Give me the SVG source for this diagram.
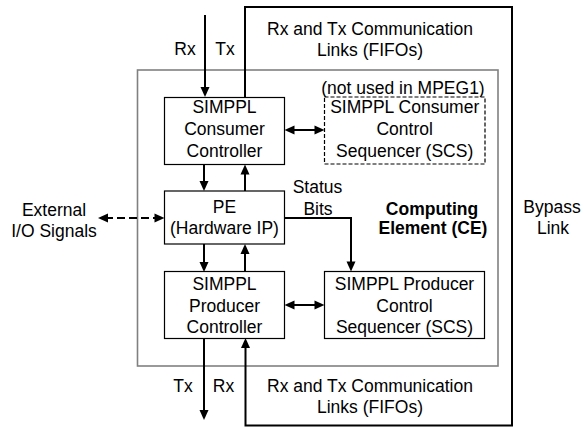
<svg xmlns="http://www.w3.org/2000/svg" width="584" height="428" viewBox="0 0 584 428">
  <style>
    text { font-family: "Liberation Sans", Arial, sans-serif; font-size: 17.5px; fill: #000; text-anchor: middle; }
    .bold { font-weight: bold; }
    .box { fill: #fff; stroke: #000; stroke-width: 1.2; }
    .dashbox { fill: #fff; stroke: #000; stroke-width: 1.2; stroke-dasharray: 4 2; }
    .ce { fill: none; stroke: #808080; stroke-width: 1.6; }
    .wire { fill: none; stroke: #000; stroke-width: 2; stroke-linejoin: miter; }
    .dashwire { fill: none; stroke: #000; stroke-width: 2; stroke-dasharray: 8 4; }
  </style>
  <defs>
    <marker id="arrow" markerUnits="userSpaceOnUse" markerWidth="10" markerHeight="10" refX="3" refY="4.5" orient="auto-start-reverse" overflow="visible">
      <path d="M0,0 L10,4.5 L0,9 Z" fill="#000"/>
    </marker>
  </defs>

  <!-- Computing element boundary -->
  <g id="computing-element">
    <rect class="ce" x="137.5" y="70" width="360.5" height="296"/>
    <text class="bold" x="432" y="214.5">Computing</text>
    <text class="bold" x="433" y="234">Element (CE)</text>
  </g>

  <!-- Connectors -->
  <g id="connectors">
    <!-- Bypass link loop: consumer Tx out, around, producer Rx in -->
    <path class="wire" d="M245,97 V7 H512 V425.5 H245.5 V345" marker-end="url(#arrow)"/>
    <!-- Incoming Rx to consumer controller -->
    <path class="wire" d="M205,15 V90" marker-end="url(#arrow)"/>
    <!-- Consumer controller <-> PE -->
    <path class="wire" d="M204,164.5 V184" marker-end="url(#arrow)"/>
    <path class="wire" d="M245,191 V171.5" marker-end="url(#arrow)"/>
    <!-- PE <-> producer controller -->
    <path class="wire" d="M204,244 V265" marker-end="url(#arrow)"/>
    <path class="wire" d="M245,272 V251" marker-end="url(#arrow)"/>
    <!-- Outgoing Tx from producer controller -->
    <path class="wire" d="M204,338.5 V413" marker-end="url(#arrow)"/>
    <!-- Status bits from PE to producer sequencer -->
    <path class="wire" d="M284.5,218 H351 V264.5" marker-end="url(#arrow)"/>
    <!-- Controller <-> sequencer links -->
    <path class="wire" d="M291.5,130 H317.5" marker-start="url(#arrow)" marker-end="url(#arrow)"/>
    <path class="wire" d="M291.5,305 H317.5" marker-start="url(#arrow)" marker-end="url(#arrow)"/>
    <!-- External I/O -->
    <path class="dashwire" d="M105,218 H157.5" marker-start="url(#arrow)" marker-end="url(#arrow)"/>
  </g>

  <g id="consumer-controller">
    <rect class="box" x="164.5" y="97.5" width="120" height="67"/>
    <text x="224.5" y="113">SIMPPL</text>
    <text x="224.5" y="135">Consumer</text>
    <text x="224.5" y="156.5">Controller</text>
  </g>

  <g id="consumer-scs">
    <text x="403" y="93.5">(not used in MPEG1)</text>
    <rect class="dashbox" x="324.5" y="97" width="160.5" height="67"/>
    <text x="404.7" y="113">SIMPPL Consumer</text>
    <text x="404.7" y="135">Control</text>
    <text x="404.7" y="156.5">Sequencer (SCS)</text>
  </g>

  <g id="pe">
    <rect class="box" x="164.5" y="191" width="120" height="53"/>
    <text x="224.5" y="213">PE</text>
    <text x="224.5" y="233.5">(Hardware IP)</text>
  </g>

  <g id="producer-controller">
    <rect class="box" x="164.5" y="271.5" width="120" height="67"/>
    <text x="224.5" y="290">SIMPPL</text>
    <text x="224.5" y="311.5">Producer</text>
    <text x="224.5" y="333">Controller</text>
  </g>

  <g id="producer-scs">
    <rect class="box" x="324.5" y="271.5" width="160" height="67"/>
    <text x="404.5" y="290">SIMPPL Producer</text>
    <text x="404.5" y="311.5">Control</text>
    <text x="404.5" y="333">Sequencer (SCS)</text>
  </g>

  <!-- Labels -->
  <g id="labels">
    <text x="185" y="55">Rx</text>
    <text x="225" y="55">Tx</text>
    <text x="370" y="35">Rx and Tx Communication</text>
    <text x="370" y="56">Links (FIFOs)</text>
    <text x="54" y="216">External</text>
    <text x="54" y="237">I/O Signals</text>
    <text x="317.5" y="193">Status</text>
    <text x="318" y="215">Bits</text>
    <text x="552" y="213">Bypass</text>
    <text x="553" y="233.5">Link</text>
    <text x="183" y="392">Tx</text>
    <text x="223.5" y="392">Rx</text>
    <text x="370" y="391.5">Rx and Tx Communication</text>
    <text x="370" y="412.5">Links (FIFOs)</text>
  </g>
</svg>
